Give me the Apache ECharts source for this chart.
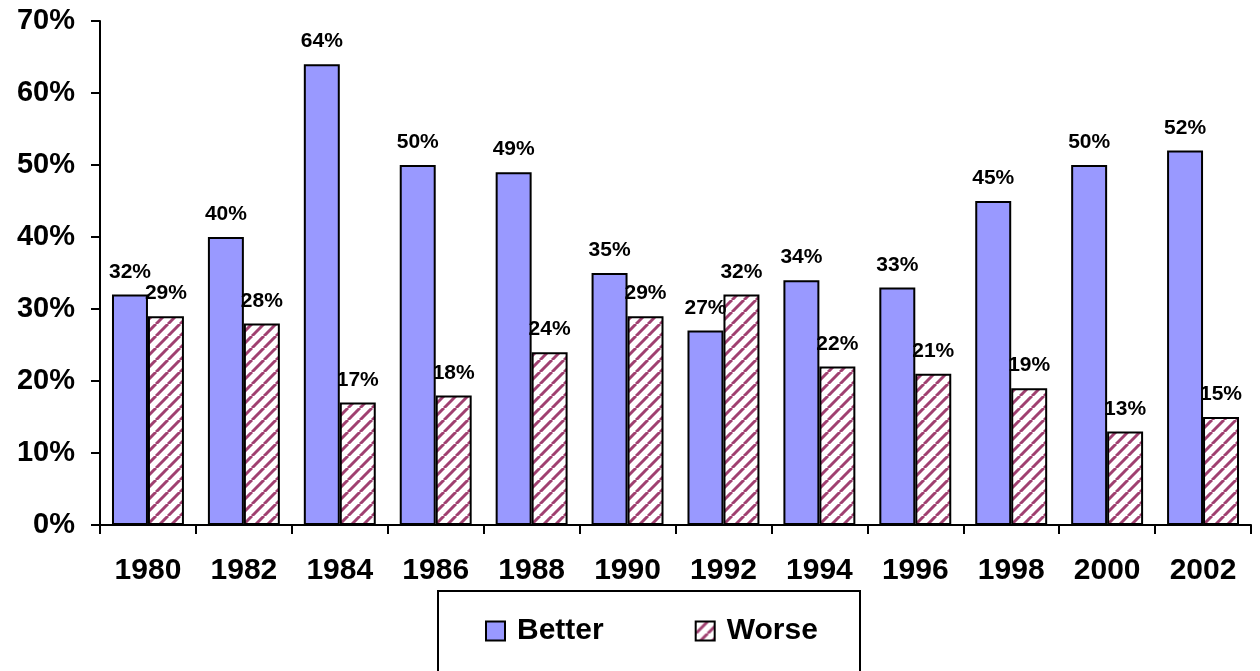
<!DOCTYPE html>
<html>
<head>
<meta charset="utf-8">
<script src="https://cdn.jsdelivr.net/npm/echarts@6/dist/echarts.min.js"></script>
<style>
  html, body { margin: 0; padding: 0; background: #fff; }
  #chart { width: 1260px; height: 671px; }
</style>
</head>
<body>
<div id="chart"></div>
<script>
const years = ["1980", "1982", "1984", "1986", "1988", "1990", "1992", "1994", "1996", "1998", "2000", "2002"];
const better = [32, 40, 64, 50, 49, 35, 27, 34, 33, 45, 50, 52];
const worse = [29, 28, 17, 18, 24, 29, 32, 22, 21, 19, 13, 15];

const font = "'Liberation Sans', Arial, sans-serif";

// diagonal "/" hatch for the Worse bars
function makeStripe() {
  const c = document.createElement("canvas");
  c.width = 12;
  c.height = 12;
  const ctx = c.getContext("2d");
  ctx.fillStyle = "#ffffff";
  ctx.fillRect(0, 0, 12, 12);
  ctx.strokeStyle = "#a04070";
  ctx.lineWidth = 3;
  for (const o of [-12, 0, 12]) {
    ctx.beginPath();
    ctx.moveTo(o, 12);
    ctx.lineTo(o + 12, 0);
    ctx.stroke();
  }
  return c;
}

const chart = echarts.init(document.getElementById("chart"), null, { renderer: "canvas" });

const labelStyle = {
  show: true,
  position: "top",
  distance: 12,
  formatter: "{c}%",
  color: "#000",
  fontFamily: font,
  fontWeight: "bold",
  fontSize: 21,
};

chart.setOption({
  animation: false,
  backgroundColor: "#fff",
  grid: { left: 100, right: 9, top: 21, bottom: 146, containLabel: false },
  graphic: [
    {
      type: "rect",
      z: 0,
      shape: { x: 438, y: 591, width: 422, height: 110 },
      style: { fill: "#fff", stroke: "#000", lineWidth: 2 },
    },
  ],
  legend: {
    left: 485,
    top: 616,
    itemWidth: 19,
    itemHeight: 19,
    itemGap: 91,
    icon: "rect",
    padding: 0,
    textStyle: { fontFamily: font, fontWeight: "bold", fontSize: 30, color: "#000", padding: [0, 0, 0, 7] },
    data: ["Better", "Worse"],
  },
  xAxis: {
    type: "category",
    data: years,
    axisLine: { lineStyle: { color: "#000", width: 2 } },
    axisTick: { show: true, length: 9, lineStyle: { color: "#000", width: 2 } },
    axisLabel: { margin: 31, color: "#000", fontFamily: font, fontWeight: "bold", fontSize: 30 },
  },
  yAxis: {
    type: "value",
    min: 0,
    max: 70,
    interval: 10,
    splitLine: { show: false },
    axisLine: { show: true, lineStyle: { color: "#000", width: 2 } },
    axisTick: { show: true, length: 9, lineStyle: { color: "#000", width: 2 } },
    axisLabel: { margin: 25, formatter: "{value}%", color: "#000", fontFamily: font, fontWeight: "bold", fontSize: 29 },
  },
  series: [
    {
      name: "Better",
      type: "bar",
      data: better,
      barGap: "0%",
      barCategoryGap: "25%",
      itemStyle: { color: "#9999ff", borderColor: "#000", borderWidth: 2 },
      label: labelStyle,
    },
    {
      name: "Worse",
      type: "bar",
      data: worse,
      itemStyle: {
        color: { image: makeStripe(), repeat: "repeat" },
        borderColor: "#000",
        borderWidth: 2,
      },
      label: labelStyle,
    },
  ],
});
</script>
</body>
</html>
